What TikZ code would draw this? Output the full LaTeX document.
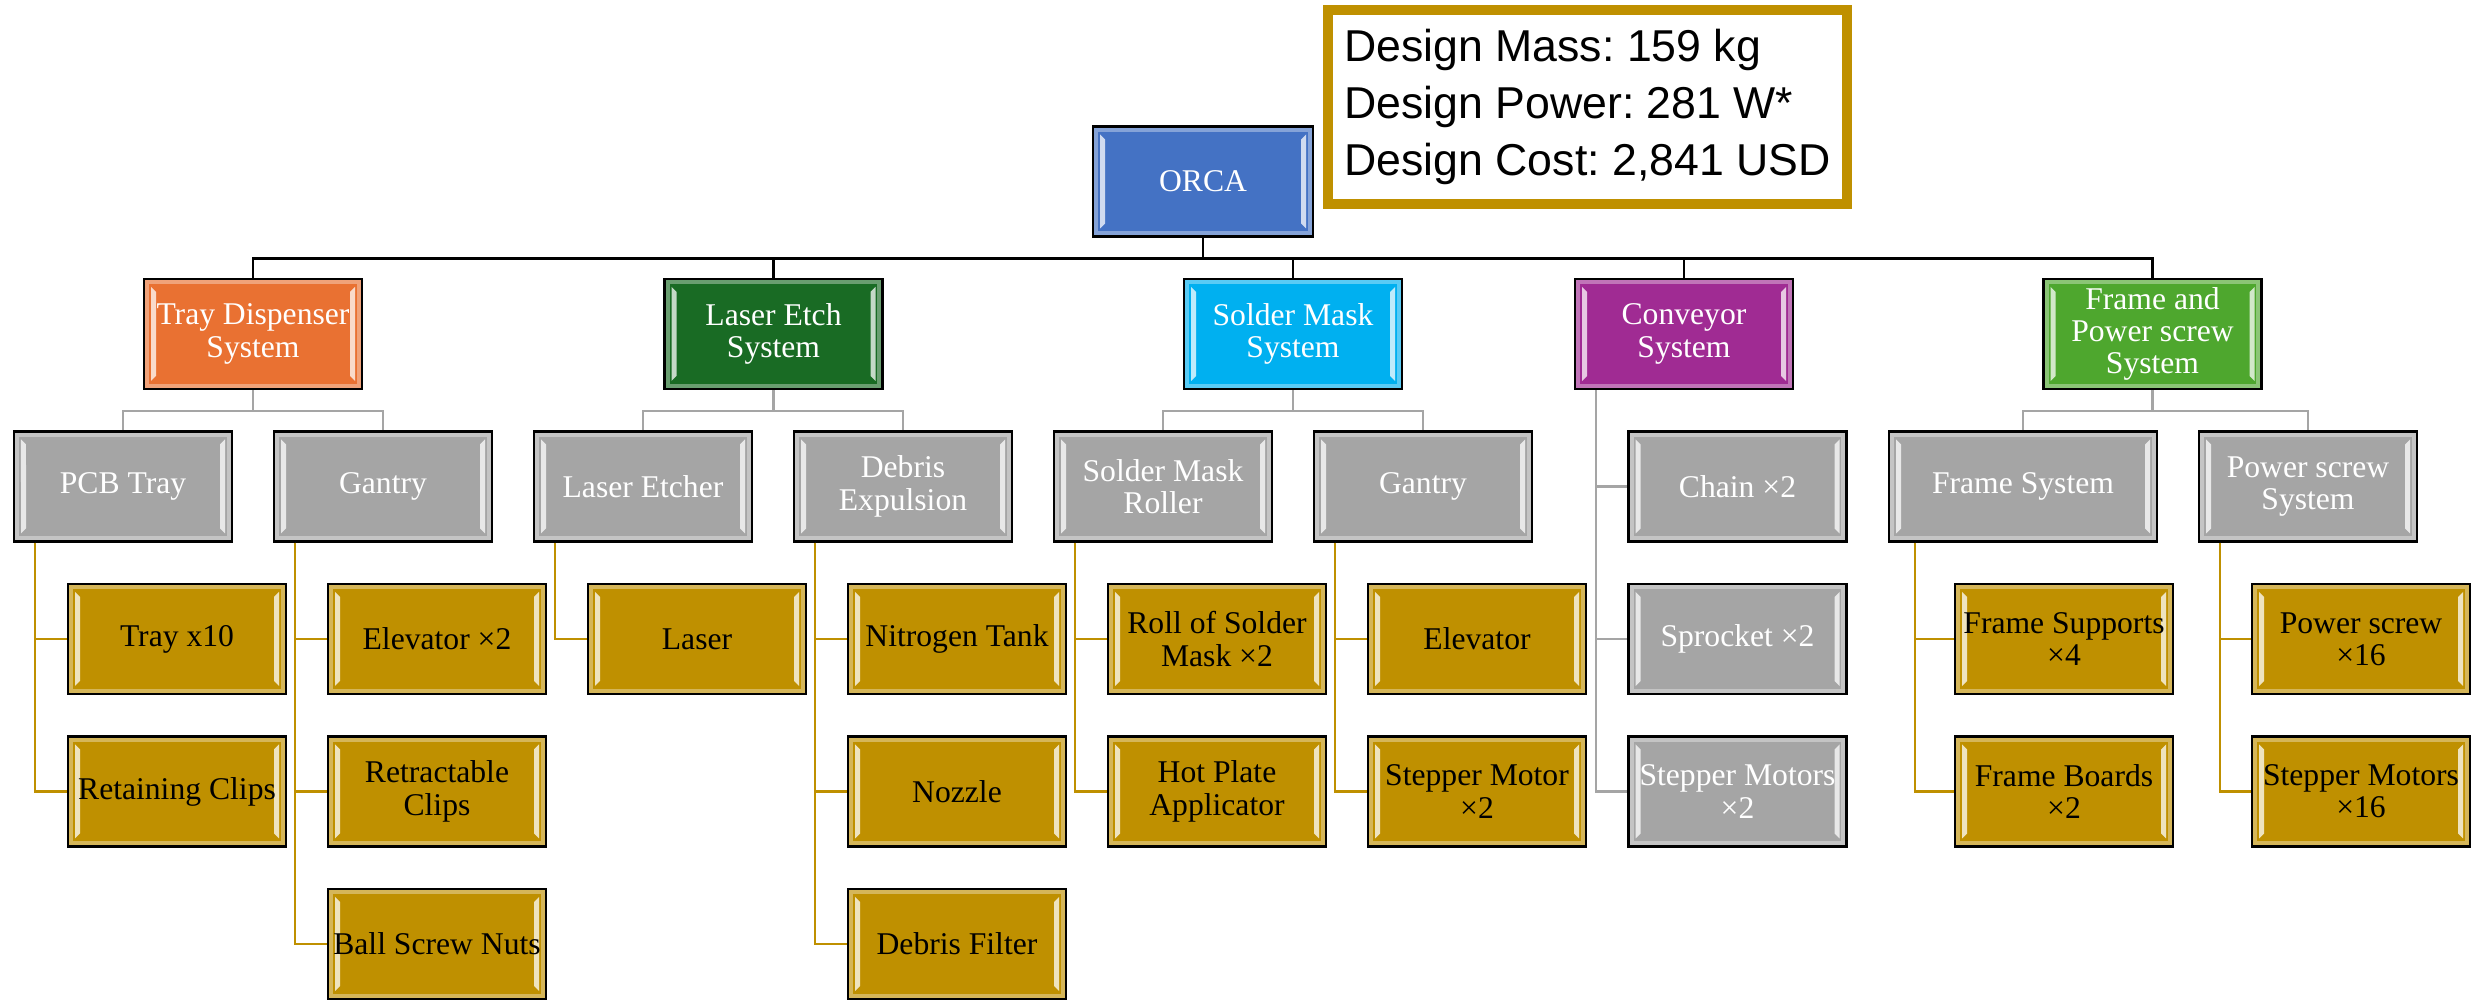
\documentclass[tikz,border=0pt]{standalone}
\usepackage{fontspec}
\setmainfont{Liberation Serif}
\newfontfamily\statfont{Liberation Sans}
\usepackage{tikz}
\definecolor{OrcaBlue}{HTML}{4472C4}
\definecolor{TrayOrange}{HTML}{E97132}
\definecolor{EtchGreen}{HTML}{196B24}
\definecolor{MaskCyan}{HTML}{00B0F0}
\definecolor{ConvPurple}{HTML}{A02B93}
\definecolor{FrameGreen}{HTML}{4EA72E}
\definecolor{PartGray}{HTML}{A5A5A5}
\definecolor{PartGold}{HTML}{BF9000}

\begin{document}
\begin{tikzpicture}[
  bevel/.style={path picture={
    \fill[white, opacity=.75]
      ([shift={(.07,.08)}]path picture bounding box.south west) -- ++(.05,.05)
      -- ([shift={(.12,-.13)}]path picture bounding box.north west) -- ++(-.05,.05) -- cycle;
    \fill[white, opacity=.75]
      ([shift={(-.07,.08)}]path picture bounding box.south east) -- ++(-.05,.05)
      -- ([shift={(-.12,-.13)}]path picture bounding box.north east) -- ++(.05,.05) -- cycle;
    \draw[white, opacity=.35, line width=1.4pt]
      ([shift={(.03,.03)}]path picture bounding box.south west)
      rectangle ([shift={(-.03,-.03)}]path picture bounding box.north east);
  }},
  box/.style={draw=black, line width=0.6pt, minimum width=2.18cm, minimum height=1.10cm,
    inner sep=1pt, align=center, font=\fontsize{9}{9.2}\selectfont, bevel},
  sysbox/.style={box, fill=#1, text=white},
  subbox/.style={box, fill=PartGray, text=white},
  partbox/.style={box, fill=PartGold, text=black},
  statbox/.style={draw=PartGold, line width=2.85pt, fill=white, align=left,
    minimum width=5.19cm, minimum height=1.94cm, inner sep=0pt,
    font=\statfont\fontsize{12.7}{16.3}\selectfont\frenchspacing},
  busline/.style={line width=0.75pt},
]
  % Canvas
  \fill[white] (0,0) rectangle (24.76,-10);
  \useasboundingbox (0,0) rectangle (24.76,-10);

  % Top and totals
  \node[sysbox=OrcaBlue, minimum width=2.20cm] (orca) at (12.03,-1.815) {ORCA};
  \node[statbox] (stats) at (15.875,-1.07) {Design Mass: 159 kg\\Design Power: 281 W*\\Design Cost: 2,841 USD};

  % Systems
  \node[sysbox=TrayOrange] (trayds) at (2.53,-3.34) {Tray Dispenser\\System};
  \node[sysbox=EtchGreen] (laseres) at (7.735,-3.34) {Laser Etch\\System};
  \node[sysbox=MaskCyan] (soldms) at (12.93,-3.34) {Solder Mask\\System};
  \node[sysbox=ConvPurple] (convs) at (16.84,-3.34) {Conveyor\\System};
  \node[sysbox=FrameGreen] (framps) at (21.525,-3.34) {Frame and\\Power screw\\System};

  % Subsystems
  \node[subbox] (pcbtray) at (1.23,-4.865) {PCB Tray};
  \node[subbox] (gantrya) at (3.83,-4.865) {Gantry};
  \node[subbox] (etcher) at (6.43,-4.865) {Laser Etcher};
  \node[subbox] (debris) at (9.03,-4.865) {Debris\\Expulsion};
  \node[subbox] (roller) at (11.63,-4.865) {Solder Mask\\Roller};
  \node[subbox] (gantryb) at (14.23,-4.865) {Gantry};
  \node[subbox] (chain) at (17.375,-4.865) {Chain ×2};
  \node[subbox] (sprocket) at (17.375,-6.39) {Sprocket ×2};
  \node[subbox] (stepmots) at (17.375,-7.915) {Stepper Motors\\×2};
  \node[subbox, minimum width=2.68cm] (framesys) at (20.23,-4.865) {Frame System};
  \node[subbox] (screwsys) at (23.08,-4.865) {Power screw\\System};

  % Parts
  \node[partbox] (trayx) at (1.77,-6.39) {Tray x10};
  \node[partbox] (retclips) at (1.77,-7.915) {Retaining Clips};
  \node[partbox] (elevx) at (4.37,-6.39) {Elevator ×2};
  \node[partbox] (retrclips) at (4.37,-7.915) {Retractable\\Clips};
  \node[partbox] (ballnuts) at (4.37,-9.44) {Ball Screw Nuts};
  \node[partbox] (laser) at (6.97,-6.39) {Laser};
  \node[partbox] (ntank) at (9.57,-6.39) {Nitrogen Tank};
  \node[partbox] (nozzle) at (9.57,-7.915) {Nozzle};
  \node[partbox] (dfilter) at (9.57,-9.44) {Debris Filter};
  \node[partbox] (rollmask) at (12.17,-6.39) {Roll of Solder\\Mask ×2};
  \node[partbox] (hotplate) at (12.17,-7.915) {Hot Plate\\Applicator};
  \node[partbox] (elev) at (14.77,-6.39) {Elevator};
  \node[partbox] (stepmot) at (14.77,-7.915) {Stepper Motor\\×2};
  \node[partbox] (fsupports) at (20.64,-6.39) {Frame Supports\\×4};
  \node[partbox] (fboards) at (20.64,-7.915) {Frame Boards\\×2};
  \node[partbox] (pscrew) at (23.61,-6.39) {Power screw\\×16};
  \node[partbox] (stepmotsx) at (23.61,-7.915) {Stepper Motors\\×16};

  % ORCA to systems
  \foreach \s in {trayds,laseres,soldms,convs,framps}
    \draw[busline] (orca.south) -- ++(0,-0.21) -| (\s.north);
  % Systems to subsystems
  \foreach \p/\c in {trayds/pcbtray, trayds/gantrya, laseres/etcher, laseres/debris,
                     soldms/roller, soldms/gantryb, framps/framesys, framps/screwsys}
    \draw[busline, PartGray] (\p.south) -- ++(0,-0.21) -| (\c.north);
  \foreach \c in {chain,sprocket,stepmots}
    \draw[busline, PartGray] ([xshift=2.2mm]convs.south west) |- (\c.west);
  % Subsystems to parts
  \foreach \p/\c in {pcbtray/trayx, pcbtray/retclips, gantrya/elevx, gantrya/retrclips,
                     gantrya/ballnuts, etcher/laser, debris/ntank, debris/nozzle,
                     debris/dfilter, roller/rollmask, roller/hotplate, gantryb/elev,
                     gantryb/stepmot, screwsys/pscrew, screwsys/stepmotsx}
    \draw[busline, PartGold] ([xshift=2.2mm]\p.south west) |- (\c.west);
  \foreach \c in {fsupports,fboards}
    \draw[busline, PartGold] ([xshift=2.7mm]framesys.south west) |- (\c.west);
\end{tikzpicture}
\end{document}
